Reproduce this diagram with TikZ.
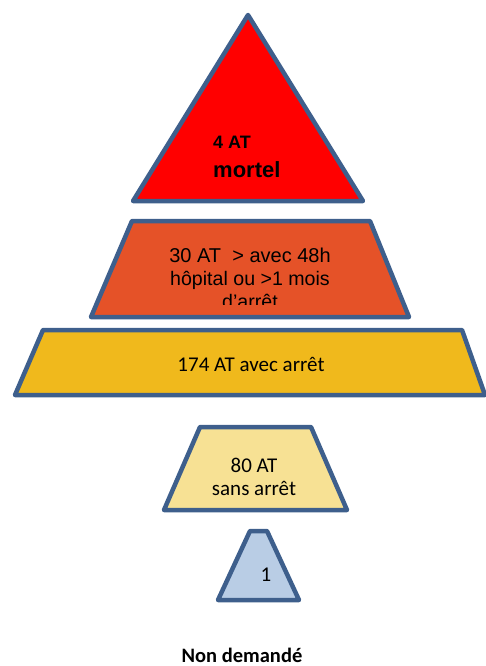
\documentclass[tikz,border=0pt]{standalone}
\usepackage{fontspec}
\setmainfont{Carlito}
\newfontfamily\arialfont{Liberation Sans}
\definecolor{rim}{HTML}{3E5F8C}
\definecolor{deadred}{HTML}{FF0000}
\definecolor{hospital}{HTML}{E55228}
\definecolor{stopgold}{HTML}{F0B91C}
\definecolor{nostop}{HTML}{F7E194}
\definecolor{paleblue}{HTML}{B9CDE5}
\tikzset{
 level/.style={draw=rim,line width=4.5pt,line join=round},
 caption/.style={anchor=base,inner sep=0pt}
}

\begin{document}
\begin{tikzpicture}[x=1pt,y=-1pt]
 \useasboundingbox (0,0) rectangle (486,666);
 % top level
 \filldraw[level,fill=deadred] (248,15) -- (363,201) -- (133,201) -- cycle;
 \node[caption,anchor=base west,font=\arialfont\bfseries\fontsize{18}{20}\selectfont] (fourat) at (213,148) {4 AT};
 \node[caption,anchor=base west,font=\arialfont\bfseries\fontsize{22}{24}\selectfont] (mortel) at (213,177) {mortel};
 % second level
 \filldraw[level,fill=hospital] (132,221) -- (370,221) -- (409,317) -- (91,317) -- cycle;
 \begin{scope}
  \clip (95,225) rectangle (405,304);
  \node[caption,font=\arialfont\fontsize{20}{22}\selectfont] (thirty) at (250,262) {30 AT\ \ > avec 48h};
  \node[caption,font=\arialfont\fontsize{19.6}{21}\selectfont] (hosp) at (250,285) {hôpital ou >1 mois};
  \node[caption,font=\arialfont\fontsize{19.6}{21}\selectfont] (days) at (250,308) {d’arrêt};
 \end{scope}
 % third level
 \filldraw[level,fill=stopgold] (43,330) -- (462,330) -- (485,395) -- (15,395) -- cycle;
 \node[caption,font=\fontsize{21}{23}\selectfont] (withstop) at (251,371) {174 AT avec arrêt};
 % fourth level
 \filldraw[level,fill=nostop] (200,427) -- (311,427) -- (347,510) -- (164,510) -- cycle;
 \node[caption,font=\fontsize{21}{23}\selectfont] (eighty) at (254,472) {80 AT};
 \node[caption,font=\fontsize{21}{23}\selectfont] (nostopl) at (254,495) {sans arrêt};
 % bottom level
 \filldraw[level,fill=paleblue] (250,531) -- (267,531) -- (299,600) -- (218,600) -- cycle;
 \node[caption,font=\fontsize{21}{23}\selectfont] (one) at (266,581) {1};
 \node[caption,font=\bfseries\fontsize{20.5}{22}\selectfont] (asked) at (242,662) {Non demandé};
\end{tikzpicture}
\end{document}
